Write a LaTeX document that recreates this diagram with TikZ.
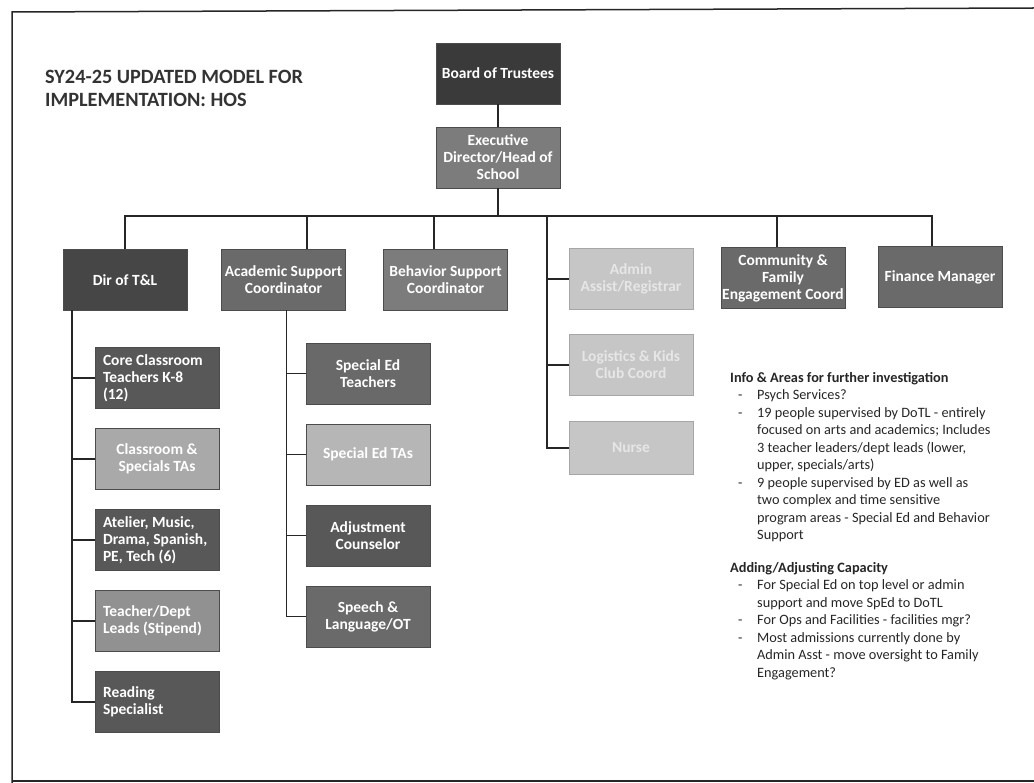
\documentclass[tikz,border=0pt]{standalone}
\usepackage{fontspec}
\setmainfont{Carlito}
\usetikzlibrary{calc,positioning}
\newdimen\hdim
\newdimen\wdim
\newdimen\odim
\hdim=61pt
\wdim=124pt
\odim=20pt
\definecolor{boardgray}{HTML}{3A3A3A}
\definecolor{darkgray}{HTML}{464646}
\definecolor{deepgray}{HTML}{585858}
\definecolor{midgray}{HTML}{6A6A6A}
\definecolor{softgray}{HTML}{7C7C7C}
\definecolor{lightgray}{HTML}{A9A9A9}
\definecolor{palegray}{HTML}{C6C6C6}
\definecolor{palefont}{HTML}{E6E6E6}
\frenchspacing
\tikzstyle{element}=[
  draw=black!70,
  fill=midgray,
  text=white,
  font={\fontsize{15.5}{17}\selectfont\bfseries\frenchspacing},
  inner sep=0pt,
  minimum height=\hdim,
  minimum width=\wdim,
  outer sep=0pt,
  rectangle,
  align=center,
  line width=.6pt,
]
\tikzstyle{leftelement}=[
  element,
  text width=\wdim-16pt,
  align=flush left,
]
\tikzstyle{faint}=[
  element,
  draw=black!35,
  fill=palegray,
  text=palefont,
]
\tikzstyle{link}=[
  draw=black!85,
  line width=1.4pt,
]
\tikzstyle{note}=[
  color=black!85,
  font={\fontsize{14.3}{17.5}\selectfont\frenchspacing},
  inner sep=0pt,
  align=left,
]
\newcommand{\dashitem}{\hspace*{8pt}\makebox[19pt][l]{-}}
\newcommand{\contline}{\hspace*{27pt}}
\tikzset{
  node distance=\odim,
  x=1pt, y=-1pt,
}

\begin{document}
\begin{tikzpicture}
      \useasboundingbox (0,0) rectangle (1034,783);
      \draw [black!85, line width=1.5pt] (1034,8) -- (12,12) -- (12,783);
      \draw [black!85, line width=1.5pt] (12,781) -- (1034,781);
      %%
      \node (title) [anchor=north west, inner sep=0pt, align=left, color=black!80,
        font={\fontsize{20.3}{23}\selectfont\bfseries}] at (45,70)
        {SY24-25 UPDATED MODEL FOR\\IMPLEMENTATION: HOS};
      %%
      \node (board) [element, fill=boardgray] at (498,73.5) {Board of Trustees};
      \node (exec) [element, fill=softgray, below=23pt of board] {Executive\\Director/Head of\\School};
      \coordinate (bus) at (0,216);
      %%
      \node (dirtl) [element, fill=darkgray] at (125,280) {Dir of T\&L};
      \node (acad) [element, fill=midgray] at (283.5,280) {Academic Support\\Coordinator};
      \node (behav) [element, fill=softgray] at (445.5,279.5) {Behavior Support\\Coordinator};
      \node (admin) [faint] at (631,279) {Admin\\Assist/Registrar};
      \node (commty) [element, fill=midgray] at (783,278) {Community \&\\Family\\Engagement Coord};
      \node (finance) [element, fill=midgray] at (940,277) {Finance Manager};
      %%
      \node (logist) [faint, below=25pt of admin] {Logistics \& Kids\\Club Coord};
      \node (nurse) [faint, minimum height=53pt, below=26pt of logist] {Nurse};
      %%
      \node (core) [leftelement, fill=deepgray] at (157,378) {Core Classroom\\Teachers K-8\\(12)};
      \node (clstas) [element, fill=lightgray, below=of core] {Classroom \&\\Specials TAs};
      \node (atelier) [leftelement, fill=deepgray, below=of clstas] {Atelier, Music,\\Drama, Spanish,\\PE, Tech (6)};
      \node (leads) [leftelement, fill=lightgray!70!deepgray, below=of atelier] {Teacher/Dept\\Leads (Stipend)};
      \node (reading) [leftelement, fill=deepgray, below=of leads] {Reading\\Specialist};
      %%
      \node (spedt) [element, fill=deepgray!90!white] at (368,373.5) {Special Ed\\Teachers};
      \node (spedta) [element, fill=lightgray!85!white, below=of spedt] {Special Ed TAs};
      \node (adjust) [element, fill=deepgray, below=of spedta] {Adjustment\\Counselor};
      \node (speech) [element, fill=midgray, below=of adjust] {Speech \&\\Language/OT};
      %%
      \coordinate (dA) at (307,216);
      \coordinate (dB) at (434,216);
      \coordinate (dC) at (547,216);
      \coordinate (dD) at (777,216);
      \coordinate (dE) at (932,216);
      \draw [link] (board) -- (exec);
      \draw [link] (exec.south) -- (exec.south|-bus);
      \draw [link] (dirtl.north) -- (dirtl.north|-bus) -- (dE) -- (dE|-finance.north);
      \draw [link] (dA) -- (dA|-acad.north);
      \draw [link] (dB) -- (dB|-behav.north);
      \draw [link] (dD) -- (dD|-commty.north);
      %%
      \draw [link] (dC) |- (nurse.west);
      \draw [link] (dC|-admin.west) -- (admin.west);
      \draw [link] (dC|-logist.west) -- (logist.west);
      %%
      \coordinate (sL) at ($(dirtl.south west)+(9,0)$);
      \draw [link] (sL) |- (reading.west);
      \foreach \n in {core,clstas,atelier,leads}
        \draw [link] (sL|-\n.west) -- (\n.west);
      %%
      \coordinate (sM) at ($(acad.south)+(3,0)$);
      \draw [link] (sM) |- (speech.west);
      \foreach \n in {spedt,spedta,adjust}
        \draw [link] (sM|-\n.west) -- (\n.west);
      %%
      \node (info) [note, anchor=north west] at (730,372)
        {\textbf{Info \& Areas for further investigation}\\
         \dashitem Psych Services?\\
         \dashitem 19 people supervised by DoTL - entirely\\
         \contline focused on arts and academics; Includes\\
         \contline 3 teacher leaders/dept leads (lower,\\
         \contline upper, specials/arts)\\
         \dashitem 9 people supervised by ED as well as\\
         \contline two complex and time sensitive\\
         \contline program areas - Special Ed and Behavior\\
         \contline Support\\[15pt]
         \textbf{Adding/Adjusting Capacity}\\
         \dashitem For Special Ed on top level or admin\\
         \contline support and move SpEd to DoTL\\
         \dashitem For Ops and Facilities - facilities mgr?\\
         \dashitem Most admissions currently done by\\
         \contline Admin Asst - move oversight to Family\\
         \contline Engagement?};
    \end{tikzpicture}
\end{document}
